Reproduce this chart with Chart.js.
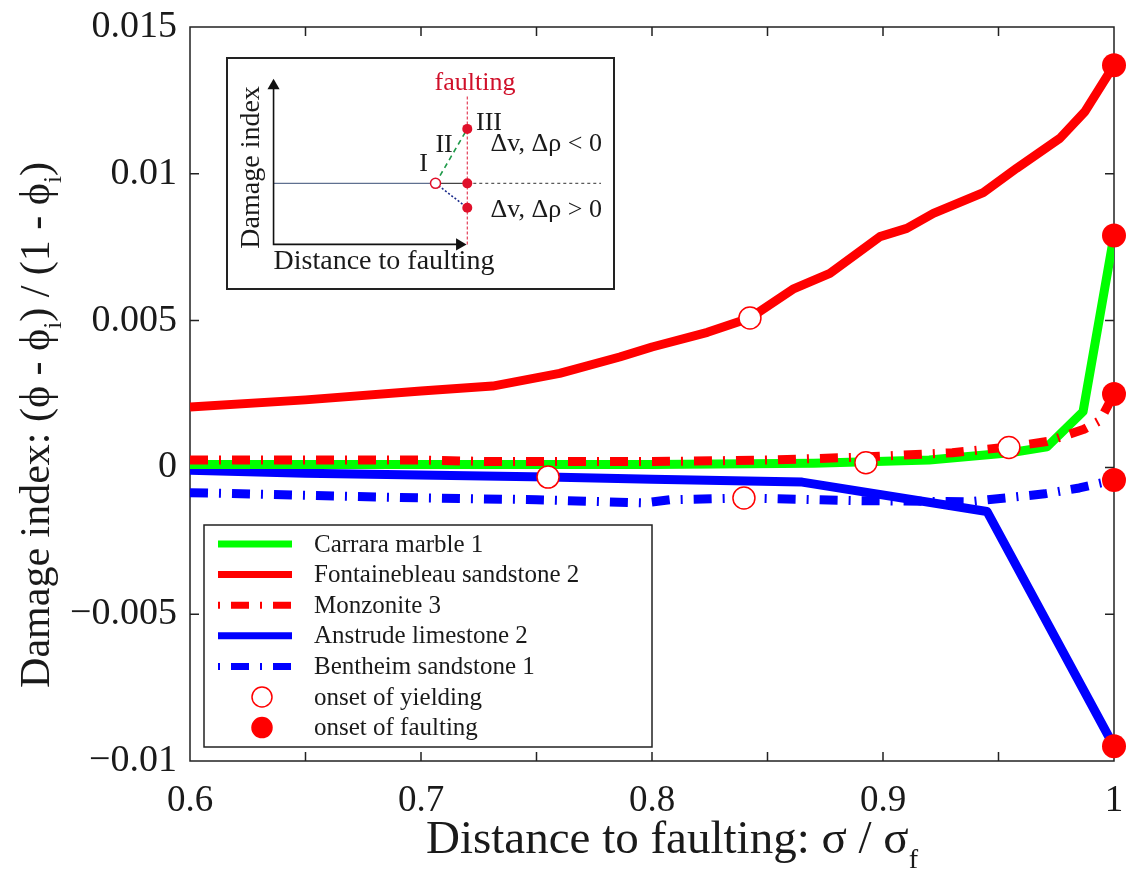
<!DOCTYPE html>
<html lang="en">
<head>
  <meta charset="UTF-8" />
  <title>Damage index vs distance to faulting</title>
  <script src="https://cdn.jsdelivr.net/npm/chart.js"></script>
  <style>
    body { margin: 0; background: #fff; }
    #wrap { position: relative; width: 1128px; height: 880px; }
    #main { display: block; }
    #inset {
      position: absolute;
      left: 226px;
      top: 57px;
      width: 389px;
      height: 233px;
      border: 2px solid #222;
      box-sizing: border-box;
      background: #fff;
    }
    #insetChart { display: block; }
  </style>
</head>
<body>

<div id="wrap">
  <canvas id="main" width="1128" height="880"></canvas>
  <div id="inset">
    <canvas id="insetChart" width="385" height="229"></canvas>
  </div>
</div>

<script>
const FONT = '"Liberation Serif", "Times New Roman", serif';

// ---- main chart data ----
const carraraX = [0.6, 0.7, 0.8, 0.87, 0.92, 0.955, 0.971, 0.9866, 1.0];
const carraraY = [0.0001, 0.0001, 0.0001, 0.00014, 0.00025, 0.0005, 0.0007, 0.0019, 0.0079];

const fontX = [0.6, 0.65, 0.7, 0.731, 0.76, 0.786, 0.8, 0.824, 0.8424, 0.861, 0.877, 0.8987, 0.9103, 0.9218, 0.9434, 0.9579, 0.9766, 0.9874, 1.0];
const fontY = [0.00206, 0.0023, 0.0026, 0.00277, 0.0032, 0.00376, 0.0041, 0.0046, 0.00509, 0.00607, 0.00661, 0.00786, 0.00814, 0.00865, 0.00936, 0.01019, 0.01121, 0.01212, 0.0137];

const monzX = [0.6, 0.7, 0.73, 0.8, 0.85, 0.89, 0.93, 0.955, 0.971, 0.987, 0.994, 1.0];
const monzY = [0.00025, 0.00025, 0.0002, 0.0002, 0.00025, 0.00035, 0.0005, 0.0007, 0.00088, 0.0013, 0.0016, 0.0025];

const anstrudeX = [0.6, 0.65, 0.755, 0.8, 0.865, 0.945, 1.0];
const anstrudeY = [-0.0001, -0.0002, -0.00033, -0.0004, -0.0005, -0.0015, -0.0095];

const bentheimX = [0.6, 0.65, 0.7, 0.75, 0.797, 0.808, 0.84, 0.886, 0.937, 0.97, 0.985, 1.0];
const bentheimY = [-0.00086, -0.00095, -0.00104, -0.0011, -0.00121, -0.0011, -0.00104, -0.00113, -0.00117, -0.0009, -0.0007, -0.00043];

const yieldX = [0.8926, 0.8424, 0.9545, 0.755, 0.8398];
const yieldY = [0.00016, 0.00509, 0.00068, -0.00033, -0.00104];

const faultX = [1.0, 1.0, 1.0, 1.0, 1.0];
const faultY = [0.0079, 0.0137, 0.0025, -0.0095, -0.00043];

// ---- inset schematic data (arbitrary units) ----
const insetAxisX = [0, 0, 0.96];
const insetAxisY = [1.04, -0.65, -0.65];
const insetArrowX = [0, 0.96];
const insetArrowY = [1.04, -0.65];
const insetArrowRot = [0, 90];
const insetBaseX = [0, 0.836];
const insetBaseY = [0, 0];
const insetFlatX = [0.836, 1];
const insetFlatY = [0, 0];
const insetTailX = [1, 1.69];
const insetTailY = [0, 0];
const insetUpX = [0.836, 1];
const insetUpY = [0, 0.58];
const insetDownX = [0.836, 1];
const insetDownY = [0, -0.26];
const insetFaultLineX = [1, 1];
const insetFaultLineY = [-0.65, 0.94];
const insetFaultX = [1, 1, 1];
const insetFaultY = [0.58, 0, -0.26];
const insetYieldX = [0.836];
const insetYieldY = [0];

const insetLabels = ['faulting', 'III', 'II', 'I', 'Δv, Δρ < 0', 'Δv, Δρ > 0', 'Distance to faulting', 'Damage index'];
const insetLabelX = [1.04, 1.045, 0.88, 0.774, 1.12, 1.12, 0.57, -0.114];
const insetLabelY = [1.07, 0.64, 0.41, 0.2, 0.42, -0.29, -0.83, 0.17];

function pts(xs, ys) {
  return xs.map((x, i) => ({ x: x, y: ys[i] }));
}

const series = [
  { label: 'Carrara marble 1', xs: carraraX, ys: carraraY, color: '#00ff00', dash: [], order: 3 },
  { label: 'Fontainebleau sandstone 2', xs: fontX, ys: fontY, color: '#ff0000', dash: [], order: 5 },
  { label: 'Monzonite 3', xs: monzX, ys: monzY, color: '#ff0000', dash: [18, 11, 2, 11], order: 1 },
  { label: 'Anstrude limestone 2', xs: anstrudeX, ys: anstrudeY, color: '#0000ff', dash: [], order: 4 },
  { label: 'Bentheim sandstone 1', xs: bentheimX, ys: bentheimY, color: '#0000ff', dash: [18, 11, 2, 11], order: 2 }
];

function drawRich(ctx, parts, cx, cy, size) {
  const widths = parts.map(p => {
    ctx.font = (p.sub ? size * 0.6 : size) + 'px ' + FONT;
    return ctx.measureText(p.t).width;
  });
  const total = widths.reduce((a, b) => a + b, 0);
  let x = cx - total / 2;
  ctx.textAlign = 'left';
  ctx.textBaseline = 'alphabetic';
  parts.forEach((p, i) => {
    ctx.font = (p.sub ? size * 0.6 : size) + 'px ' + FONT;
    ctx.fillText(p.t, x, cy + size * 0.35 + (p.sub ? size * 0.3 : 0));
    x += widths[i];
  });
}

// frame + inward ticks, drawn under the data
const framePlugin = {
  id: 'frame',
  beforeDatasetsDraw(chart) {
    const ctx = chart.ctx;
    const a = chart.chartArea;
    const sx = chart.scales.x, sy = chart.scales.y;
    ctx.save();
    ctx.strokeStyle = '#222';
    ctx.lineWidth = 1.5;
    ctx.strokeRect(a.left, a.top, a.right - a.left, a.bottom - a.top);
    ctx.beginPath();
    sx.ticks.forEach(t => {
      const px = sx.getPixelForValue(t.value);
      if (px <= a.left + 1 || px >= a.right - 1) return;
      ctx.moveTo(px, a.bottom); ctx.lineTo(px, a.bottom - 9);
      ctx.moveTo(px, a.top); ctx.lineTo(px, a.top + 9);
    });
    sy.ticks.forEach(t => {
      const py = sy.getPixelForValue(t.value);
      if (py <= a.top + 1 || py >= a.bottom - 1) return;
      ctx.moveTo(a.left, py); ctx.lineTo(a.left + 9, py);
      ctx.moveTo(a.right, py); ctx.lineTo(a.right - 9, py);
    });
    ctx.stroke();
    ctx.restore();
  }
};

// axis titles with subscripts + legend box
const overlayPlugin = {
  id: 'overlay',
  afterDraw(chart) {
    const ctx = chart.ctx;
    const a = chart.chartArea;
    ctx.save();
    ctx.fillStyle = '#1a1a1a';
    drawRich(ctx, [
      { t: 'Distance to faulting: σ / σ' }, { t: 'f', sub: true }
    ], (a.left + a.right) / 2 + 20, 837, 47);

    ctx.save();
    ctx.translate(34, (a.top + a.bottom) / 2 + 31);
    ctx.rotate(-Math.PI / 2);
    drawRich(ctx, [
      { t: 'Damage index: (ϕ - ϕ' }, { t: 'i', sub: true },
      { t: ') / (1 - ϕ' }, { t: 'i', sub: true }, { t: ')' }
    ], 0, 0, 42);
    ctx.restore();

    // legend
    const bx = a.left + 14, by = a.bottom - 236, bw = 448, bh = 222;
    ctx.fillStyle = '#fff';
    ctx.fillRect(bx, by, bw, bh);
    ctx.strokeStyle = '#222';
    ctx.lineWidth = 1.5;
    ctx.strokeRect(bx, by, bw, bh);

    chart.data.datasets.forEach((ds, i) => {
      const cy = by + 19 + i * 30.6;
      if (ds.showLine) {
        ctx.save();
        ctx.strokeStyle = ds.borderColor;
        ctx.lineWidth = 7;
        ctx.setLineDash(ds.borderDash || []);
        ctx.lineDashOffset = ds.borderDash && ds.borderDash.length ? 29 : 0;
        ctx.beginPath();
        ctx.moveTo(bx + 14, cy);
        ctx.lineTo(bx + 88, cy);
        ctx.stroke();
        ctx.restore();
      } else {
        ctx.beginPath();
        ctx.arc(bx + 58, cy, 10, 0, Math.PI * 2);
        ctx.fillStyle = ds.pointBackgroundColor;
        ctx.fill();
        ctx.lineWidth = 1.5;
        ctx.strokeStyle = ds.pointBorderColor;
        ctx.stroke();
      }
      ctx.fillStyle = '#1a1a1a';
      ctx.font = '25px ' + FONT;
      ctx.textAlign = 'left';
      ctx.textBaseline = 'middle';
      ctx.fillText(ds.label, bx + 110, cy + 1);
    });
    ctx.restore();
  }
};

new Chart(document.getElementById('main'), {
  type: 'scatter',
  data: {
    datasets: [
      ...series.map(s => ({
        label: s.label,
        data: pts(s.xs, s.ys),
        showLine: true,
        borderColor: s.color,
        backgroundColor: s.color,
        borderWidth: 9,
        borderDash: s.dash,
        borderJoinStyle: 'round',
        pointRadius: 0,
        tension: 0,
        order: s.order
      })),
      {
        label: 'onset of yielding',
        data: pts(yieldX, yieldY),
        showLine: false,
        pointRadius: 11,
        pointBackgroundColor: '#ffffff',
        pointBorderColor: '#ff0000',
        pointBorderWidth: 1.5,
        order: 0,
        clip: false
      },
      {
        label: 'onset of faulting',
        data: pts(faultX, faultY),
        showLine: false,
        pointRadius: 12,
        pointBackgroundColor: '#ff0000',
        pointBorderColor: '#ff0000',
        pointBorderWidth: 0,
        order: 0,
        clip: false
      }
    ]
  },
  options: {
    responsive: false,
    animation: false,
    events: [],
    layout: { padding: { top: 27, right: 14, left: 0, bottom: 0 } },
    plugins: { legend: { display: false }, tooltip: { enabled: false } },
    scales: {
      x: {
        type: 'linear',
        min: 0.6,
        max: 1.0,
        grid: { display: false },
        border: { display: false },
        ticks: {
          stepSize: 0.05,
          autoSkip: false,
          maxRotation: 0,
          padding: 10,
          color: '#1a1a1a',
          font: { family: FONT, size: 37 },
          callback: v => {
            const r = Math.round(v * 100);
            if (r % 10 !== 0) return '';
            return r === 100 ? '1' : (r / 100).toFixed(1);
          }
        },
        afterFit(s) {
          s.height = 119;
          s.paddingLeft = 0;
          s.paddingRight = 0;
        }
      },
      y: {
        type: 'linear',
        min: -0.01,
        max: 0.015,
        grid: { display: false },
        border: { display: false },
        ticks: {
          stepSize: 0.005,
          autoSkip: false,
          padding: 5,
          color: '#1a1a1a',
          font: { family: FONT, size: 38 },
          callback: v => {
            const r = Math.round(v * 1000);
            if (r === 0) return '0';
            const s = String(Math.abs(r) / 1000);
            return r < 0 ? '\u2212' + s : s;
          }
        },
        afterFit(s) {
          s.width = 190;
          s.paddingTop = 0;
          s.paddingBottom = 0;
        }
      }
    }
  },
  plugins: [framePlugin, overlayPlugin]
});

// ---- inset schematic ----
const insetTextPlugin = {
  id: 'insetText',
  afterDraw(chart) {
    const ctx = chart.ctx;
    const sx = chart.scales.x, sy = chart.scales.y;
    ctx.save();
    ctx.textBaseline = 'middle';
    insetLabels.forEach((txt, i) => {
      const px = sx.getPixelForValue(insetLabelX[i]);
      const py = sy.getPixelForValue(insetLabelY[i]);
      ctx.fillStyle = i === 0 ? '#d0102a' : '#1a1a1a';
      ctx.font = (i >= 6 ? 28 : 26) + 'px ' + FONT;
      if (i === 7) {
        ctx.save();
        ctx.translate(px, py);
        ctx.rotate(-Math.PI / 2);
        ctx.textAlign = 'center';
        ctx.fillText(txt, 0, 0);
        ctx.restore();
      } else {
        ctx.textAlign = (i === 1 || i === 4 || i === 5) ? 'left' : 'center';
        ctx.fillText(txt, px, py);
      }
    });
    ctx.restore();
  }
};

function insetLine(xs, ys, color, width, dash, order) {
  return {
    data: pts(xs, ys), showLine: true, borderColor: color, borderWidth: width,
    borderDash: dash, pointRadius: 0, order: order, clip: false
  };
}

new Chart(document.getElementById('insetChart'), {
  type: 'scatter',
  data: {
    datasets: [
      insetLine(insetAxisX, insetAxisY, '#111', 1.6, [], 5),
      {
        data: pts(insetArrowX, insetArrowY), showLine: false, pointStyle: 'triangle',
        pointRadius: 7, pointRotation: insetArrowRot, pointBackgroundColor: '#111',
        pointBorderColor: '#111', pointBorderWidth: 0, order: 4, clip: false
      },
      insetLine(insetBaseX, insetBaseY, '#5f7090', 1.4, [], 5),
      insetLine(insetFlatX, insetFlatY, '#444', 1.4, [], 5),
      insetLine(insetTailX, insetTailY, '#555', 1.2, [3, 3], 5),
      insetLine(insetUpX, insetUpY, '#1f9a4a', 1.6, [5, 4], 5),
      insetLine(insetDownX, insetDownY, '#1a2a8a', 1.6, [2, 2], 5),
      insetLine(insetFaultLineX, insetFaultLineY, '#e0304a', 1.1, [3, 2], 6),
      {
        data: pts(insetFaultX, insetFaultY), showLine: false, pointRadius: 5,
        pointBackgroundColor: '#e0102a', pointBorderColor: '#e0102a', pointBorderWidth: 0, order: 0, clip: false
      },
      {
        data: pts(insetYieldX, insetYieldY), showLine: false, pointRadius: 5,
        pointBackgroundColor: '#fff', pointBorderColor: '#e0102a', pointBorderWidth: 1.5, order: 0, clip: false
      }
    ]
  },
  options: {
    responsive: false,
    animation: false,
    events: [],
    layout: { padding: 0 },
    plugins: { legend: { display: false }, tooltip: { enabled: false } },
    scales: {
      x: { type: 'linear', min: -0.199, max: 1.716, display: false },
      y: { type: 'linear', min: -1.04, max: 1.25, display: false }
    }
  },
  plugins: [insetTextPlugin]
});
</script>

</body>
</html>
